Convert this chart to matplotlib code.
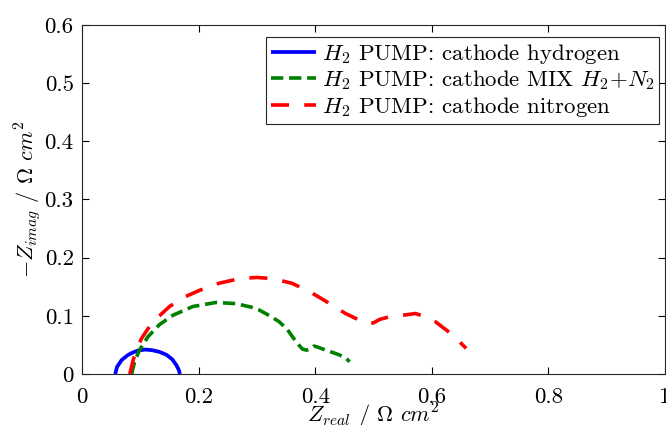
import matplotlib
matplotlib.use("Agg")
import matplotlib.pyplot as plt

plt.rcParams['font.family'] = ['cmr10', 'DejaVu Serif']
plt.rcParams['mathtext.fontset'] = 'cm'
plt.rcParams['axes.formatter.use_mathtext'] = True
plt.rcParams['axes.unicode_minus'] = False

# Data
h2_x = [0.057, 0.060, 0.068, 0.078, 0.085, 0.095, 0.108, 0.120, 0.133, 0.145, 0.155, 0.162, 0.166, 0.168]
h2_y = [0.000, 0.012, 0.024, 0.032, 0.036, 0.040, 0.042, 0.041, 0.038, 0.033, 0.025, 0.015, 0.007, 0.000]

mix_x = [0.085, 0.090, 0.098, 0.113, 0.133, 0.156, 0.190, 0.230, 0.264, 0.290, 0.304, 0.322, 0.338,
         0.352, 0.361, 0.370, 0.378, 0.385, 0.392, 0.398, 0.405, 0.418, 0.430, 0.441, 0.452, 0.459]
mix_y = [0.000, 0.020, 0.040, 0.064, 0.085, 0.101, 0.116, 0.123, 0.121, 0.115, 0.110, 0.100, 0.090,
         0.077, 0.064, 0.052, 0.043, 0.041, 0.043, 0.048, 0.046, 0.041, 0.037, 0.033, 0.028, 0.021]

n2_x = [0.082, 0.088, 0.095, 0.102, 0.120, 0.150, 0.175, 0.202, 0.235, 0.270, 0.300, 0.327, 0.360,
        0.390, 0.420, 0.452, 0.475, 0.490, 0.500, 0.511, 0.530, 0.550, 0.572, 0.590, 0.606, 0.627,
        0.645, 0.659]
n2_y = [0.000, 0.025, 0.045, 0.061, 0.088, 0.116, 0.132, 0.144, 0.156, 0.164, 0.166, 0.164, 0.156,
        0.142, 0.124, 0.104, 0.093, 0.086, 0.088, 0.094, 0.099, 0.101, 0.104, 0.098, 0.090, 0.074,
        0.058, 0.044]

labels = [r'$H_2$ PUMP: cathode hydrogen',
          r'$H_2$ PUMP: cathode MIX $H_2$+$N_2$',
          r'$H_2$ PUMP: cathode nitrogen']

xticks = [0, 0.2, 0.4, 0.6, 0.8, 1]
yticks = [0, 0.1, 0.2, 0.3, 0.4, 0.5, 0.6]
xticklabels = ['0', '0.2', '0.4', '0.6', '0.8', '1']
yticklabels = ['0', '0.1', '0.2', '0.3', '0.4', '0.5', '0.6']

fig = plt.figure(figsize=(6.66, 4.25), dpi=100)
ax = fig.add_axes([82/666, 51/425, 583/666, 349/425])

ax.plot(h2_x, h2_y, color='#0000ff', lw=2.7, solid_capstyle='butt', label=labels[0])
l2, = ax.plot(mix_x, mix_y, color='#008000', lw=2.6, label=labels[1])
l2.set_dashes([3.4, 1.6])
l3, = ax.plot(n2_x, n2_y, color='#ff0000', lw=2.6, label=labels[2])
l3.set_dashes([5.0, 4.2])

ax.set_xlim(0, 1)
ax.set_ylim(0, 0.6)
ax.set_xticks(xticks)
ax.set_xticklabels(xticklabels)
ax.set_yticks(yticks)
ax.set_yticklabels(yticklabels)
ax.tick_params(direction='in', top=True, right=True, labelsize=16.5, length=5, width=0.8)
ax.tick_params(axis='x', pad=10)
ax.tick_params(axis='y', pad=6)
for s in ax.spines.values():
    s.set_linewidth(0.8)
    s.set_color('#262626')

ax.set_xlabel(r'$Z_{real}$ / $\Omega$ $cm^2$', fontsize=16, labelpad=-4.5)
ax.set_ylabel(r'$-Z_{imag}$ / $\Omega$ $cm^2$', fontsize=16, labelpad=1)

leg = ax.legend(loc='upper right', bbox_to_anchor=(0.9897, 0.9656), fontsize=16.5,
                fancybox=False, edgecolor='#262626',
                framealpha=1, borderpad=0.2, labelspacing=0.12, handlelength=1.95,
                handletextpad=0.27, borderaxespad=0.0)
leg.get_frame().set_linewidth(0.8)

fig.savefig('out.png', dpi=100)
